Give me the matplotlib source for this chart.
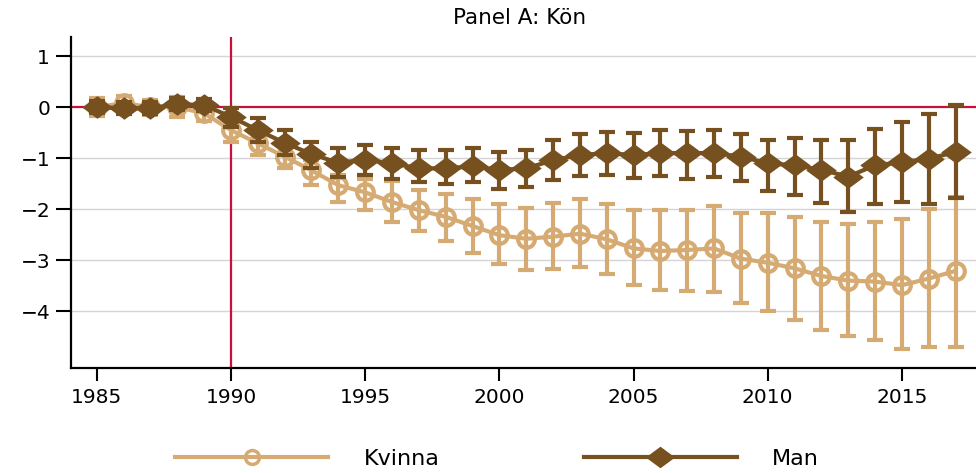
import matplotlib
matplotlib.use("Agg")
import matplotlib.pyplot as plt
from matplotlib.lines import Line2D
from matplotlib.path import Path
import numpy as np

years = list(range(1985, 2018))

kvinna = [0.00, 0.08, 0.00, 0.00, -0.12, -0.45, -0.71, -0.97, -1.24, -1.53, -1.67, -1.86,
          -2.02, -2.15, -2.33, -2.51, -2.58, -2.54, -2.48, -2.59, -2.77, -2.82, -2.80,
          -2.77, -2.97, -3.05, -3.16, -3.31, -3.40, -3.42, -3.49, -3.36, -3.21]
kvinna_hi = [0.18, 0.22, 0.15, 0.20, 0.05, -0.25, -0.50, -0.78, -1.04, -1.33, -1.40, -1.45,
             -1.63, -1.71, -1.81, -1.90, -1.97, -1.88, -1.81, -1.90, -2.02, -2.02, -2.01,
             -1.94, -2.08, -2.08, -2.15, -2.25, -2.29, -2.25, -2.20, -1.99, -1.76]
kvinna_lo = [-0.18, -0.08, -0.15, -0.20, -0.28, -0.68, -0.94, -1.20, -1.53, -1.86, -2.02, -2.25,
             -2.43, -2.62, -2.86, -3.07, -3.20, -3.18, -3.13, -3.27, -3.49, -3.59, -3.60,
             -3.62, -3.84, -3.99, -4.18, -4.36, -4.49, -4.56, -4.75, -4.71, -4.70]

man = [0.00, -0.02, -0.02, 0.06, 0.04, -0.19, -0.45, -0.70, -0.92, -1.09, -1.03, -1.10,
       -1.20, -1.20, -1.16, -1.23, -1.20, -1.04, -0.94, -0.90, -0.94, -0.90, -0.90,
       -0.90, -0.97, -1.10, -1.14, -1.23, -1.36, -1.14, -1.08, -1.01, -0.88]
man_hi = [0.12, 0.10, 0.10, 0.18, 0.16, -0.02, -0.22, -0.45, -0.68, -0.81, -0.75, -0.81,
          -0.84, -0.83, -0.80, -0.88, -0.84, -0.65, -0.53, -0.48, -0.50, -0.45, -0.46,
          -0.45, -0.52, -0.64, -0.61, -0.65, -0.65, -0.42, -0.29, -0.14, 0.04]
man_lo = [-0.12, -0.14, -0.14, -0.06, -0.08, -0.38, -0.68, -0.94, -1.20, -1.37, -1.33, -1.40,
          -1.46, -1.50, -1.46, -1.61, -1.57, -1.43, -1.35, -1.33, -1.39, -1.35, -1.41,
          -1.36, -1.44, -1.64, -1.72, -1.87, -2.05, -1.90, -1.85, -1.89, -1.79]

yticks = [1, 0, -1, -2, -3, -4]
xticks = [1985, 1990, 1995, 2000, 2005, 2010, 2015]
title = "Panel A: Kön"
labels = ["Kvinna", "Man"]

c_k = "#D6AB73"
c_m = "#76501F"
c_red = "#C8103A"

font = "DejaVu Sans"

fig = plt.figure(figsize=(9.76, 4.73), dpi=100)
ax = fig.add_axes([71/976, 1 - 368.3/473, 1 - 71/976, (368.3 - 37.3)/473])

ax.set_xlim(1984.04, 2017.76)
ax.set_ylim(-5.12, 1.37)

for yv in yticks:
    if yv != 0:
        ax.axhline(yv, color="#d4d4d4", lw=1.0, zorder=0)
ax.axhline(0, color=c_red, lw=1.6, zorder=1)
ax.axvline(1990, color=c_red, lw=1.6, zorder=1)

diamond = Path([(-1, 0), (0, 0.74), (1, 0), (0, -0.74), (-1, 0)],
               [Path.MOVETO, Path.LINETO, Path.LINETO, Path.LINETO, Path.CLOSEPOLY])

k = np.array(kvinna)
ax.errorbar(years, k, yerr=[k - np.array(kvinna_lo), np.array(kvinna_hi) - k],
            fmt="none", ecolor=c_k, elinewidth=3.0, capsize=6, capthick=3.0, zorder=2)
ax.plot(years, k, color=c_k, lw=3.0, marker="o", markersize=12, markerfacecolor="none",
        markeredgecolor=c_k, markeredgewidth=3.0, zorder=3)

m = np.array(man)
ax.errorbar(years, m, yerr=[m - np.array(man_lo), np.array(man_hi) - m],
            fmt="none", ecolor=c_m, elinewidth=3.0, capsize=6, capthick=3.0, zorder=4)
ax.plot(years, m, color=c_m, lw=3.0, marker=diamond, markersize=22, markerfacecolor=c_m,
        markeredgecolor=c_m, markeredgewidth=0, zorder=5)

ax.set_xticks(xticks)
ax.set_yticks(yticks)
ax.set_xticklabels([str(x) for x in xticks], fontsize=14.5, family=font)
ax.set_yticklabels([str(y).replace("-", "\u2212") for y in yticks], fontsize=14.5, family=font)
ax.tick_params(axis="y", length=11, width=1.5, pad=4)
ax.tick_params(axis="x", length=9, width=1.5, pad=5)

for s in ["top", "right"]:
    ax.spines[s].set_visible(False)
for s in ["left", "bottom"]:
    ax.spines[s].set_linewidth(1.6)
    ax.spines[s].set_color("black")

fig.text(520/976, 1 - 18/473, title, ha="center", va="center", fontsize=15.5, family=font)

h_k = Line2D([], [], color=c_k, lw=3.0, marker="o", markersize=10, markerfacecolor="none",
             markeredgecolor=c_k, markeredgewidth=2.5)
h_m = Line2D([], [], color=c_m, lw=3.0, marker=diamond, markersize=21, markerfacecolor=c_m,
             markeredgewidth=0)
leg = fig.legend([h_k, h_m], labels, loc="center left", bbox_to_anchor=(175/976, 1 - 459/473),
                 ncol=2, frameon=False, handlelength=6.9, handletextpad=1.58,
                 columnspacing=6.5, borderpad=0, borderaxespad=0,
                 prop={"family": font, "size": 16})

fig.savefig("out.png", dpi=100)
